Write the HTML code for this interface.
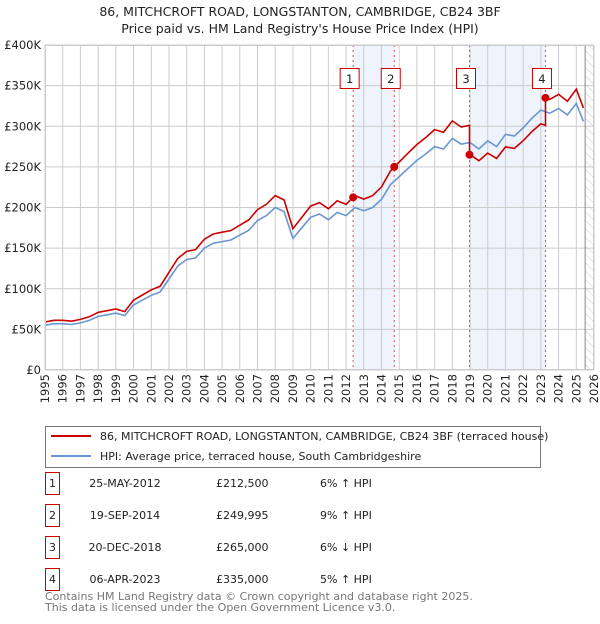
<!DOCTYPE html>
<html><head><meta charset="utf-8"><style>
body{margin:0;background:#fff;font-family:"DejaVu Sans","Liberation Sans",sans-serif;}
svg text{font-family:"DejaVu Sans","Liberation Sans",sans-serif;}
</style></head><body>
<svg id="c" width="600" height="620" xmlns="http://www.w3.org/2000/svg">
<defs><pattern id="hatch" width="6" height="6" patternUnits="userSpaceOnUse" patternTransform="rotate(-45)"><line x1="0" y1="0" x2="0" y2="6" stroke="#ccc" stroke-width="1"/></pattern></defs>
<text x="300" y="16" text-anchor="middle" font-size="12.5" fill="#222">86, MITCHCROFT ROAD, LONGSTANTON, CAMBRIDGE, CB24 3BF</text>
<text x="300" y="33" text-anchor="middle" font-size="12.5" fill="#222">Price paid vs. HM Land Registry's House Price Index (HPI)</text>
<g id="plot"></g>
<g>
<rect x="45.5" y="426.5" width="495" height="41" fill="#fff" stroke="#777"/>
<line x1="51" y1="436" x2="91" y2="436" stroke="#cc0000" stroke-width="2"/>
<text x="100" y="440" font-size="11" fill="#222">86, MITCHCROFT ROAD, LONGSTANTON, CAMBRIDGE, CB24 3BF (terraced house)</text>
<line x1="51" y1="456" x2="91" y2="456" stroke="#6a96d2" stroke-width="2"/>
<text x="100" y="460" font-size="11" fill="#222">HPI: Average price, terraced house, South Cambridgeshire</text>
</g>
<g id="table"></g>
<text x="45" y="600" font-size="11" fill="#777">Contains HM Land Registry data © Crown copyright and database right 2025.</text>
<text x="45" y="611" font-size="11" fill="#777">This data is licensed under the Open Government Licence v3.0.</text>
</svg>
<script>
const years=[1995,1995.5,1996,1996.5,1997,1997.5,1998,1998.5,1999,1999.5,2000,2000.5,2001,2001.5,2002,2002.5,2003,2003.5,2004,2004.5,2005,2005.5,2006,2006.5,2007,2007.5,2008,2008.5,2009,2009.5,2010,2010.5,2011,2011.5,2012,2012.5,2013,2013.5,2014,2014.5,2015,2015.5,2016,2016.5,2017,2017.5,2018,2018.5,2019,2019.5,2020,2020.5,2021,2021.5,2022,2022.5,2023,2023.5,2024,2024.5,2025,2025.4];
const hpi=[55,57,57,56,58,61,66,68,70,67,80,86,92,96,112,128,136,138,150,156,158,160,166,172,184,190,200,195,162,175,188,192,185,194,190,200,196,200,210,228,238,248,258,266,275,272,285,278,280,272,282,275,290,288,298,310,320,316,322,314,328,306];
const saleDates=[2012.4,2014.72,2018.97,2023.26];
const salePrices=[212.5,249.995,265,335];
const saleLabels=["25-MAY-2012","19-SEP-2014","20-DEC-2018","06-APR-2023"];
const priceLabels=["£212,500","£249,995","£265,000","£335,000"];
const hpiLabels=["6% ↑ HPI","9% ↑ HPI","6% ↓ HPI","5% ↑ HPI"];
const yTicks=[0,50,100,150,200,250,300,350,400];
const xTicks=[1995,1996,1997,1998,1999,2000,2001,2002,2003,2004,2005,2006,2007,2008,2009,2010,2011,2012,2013,2014,2015,2016,2017,2018,2019,2020,2021,2022,2023,2024,2025,2026];
const NS="http://www.w3.org/2000/svg";
const L=45,R=594,T=45,B=370;
const x=v=>L+(v-1995)/31*(R-L);
const y=v=>B-v/400*(B-T);
const g=document.getElementById('plot');
function mk(t,a,p){const e=document.createElementNS(NS,t);for(const k in a)e.setAttribute(k,a[k]);(p||g).appendChild(e);return e;}
function hpiAt(t){for(let i=1;i<years.length;i++){if(t<=years[i]){const f=(t-years[i-1])/(years[i]-years[i-1]);return hpi[i-1]+f*(hpi[i]-hpi[i-1]);}}return hpi[hpi.length-1];}
for(const [a,b] of [[0,1],[2,3]]){const r=mk('rect',{x:x(saleDates[a]),y:T,width:x(saleDates[b])-x(saleDates[a]),height:B-T,fill:'#eef3fc'});

}
const hz=mk('rect',{x:x(2025.5),y:T,width:R-x(2025.5),height:B-T,fill:'url(#hatch)'});


yTicks.forEach(v=>{mk('line',{x1:L,x2:R,y1:y(v),y2:y(v),stroke:'#cccccc'});
const t=mk('text',{x:L-4,y:y(v)+4,'text-anchor':'end','font-size':'11.5',fill:'#222'});t.textContent=v===0?'£0':'£'+v+'K';

});
xTicks.forEach(v=>{mk('line',{x1:x(v),x2:x(v),y1:T,y2:B,stroke:'#cccccc'});
const tx=x(v)+4,ty=B+4;
const t=mk('text',{x:tx,y:ty,'text-anchor':'end','font-size':'11.5',fill:'#222',transform:`rotate(-90 ${tx} ${ty})`});t.textContent=v;

});
mk('line',{x1:x(2025.5),x2:x(2025.5),y1:T,y2:B,stroke:'#888'});
saleDates.forEach((d,i)=>{const l=mk('line',{x1:x(d),x2:x(d),y1:T,y2:B,stroke:'#e05050','stroke-dasharray':'2,3'});


const bx=mk('rect',{x:x(d)-13,y:68.5,width:19,height:20,fill:'#fff',stroke:'#cc0000'});


const t=mk('text',{x:x(d)-3.5,y:83,'text-anchor':'middle','font-size':'11.5',fill:'#222'});t.textContent=i+1;

});
const hp=mk('path',{d:years.map((t,i)=>(i?'L':'M')+x(t).toFixed(1)+','+y(hpi[i]).toFixed(1)).join(''),fill:'none',stroke:'#6a96d2','stroke-width':'1.6'});


const ratios=saleDates.map((d,i)=>salePrices[i]/hpiAt(d));
function ratioAt(t){let r=ratios[0];saleDates.forEach((d,i)=>{if(t>=d)r=ratios[i];});return r;}
const pts=[];
const ts=years.concat(saleDates).sort((a,b)=>a-b);
ts.forEach(t=>{const si=saleDates.indexOf(t);
if(si>0){pts.push([t,hpiAt(t)*ratios[si-1]]);pts.push([t,salePrices[si]]);}
else pts.push([t,hpiAt(t)*ratioAt(t)]);});
const pp=mk('path',{d:pts.map((p,i)=>(i?'L':'M')+x(p[0]).toFixed(1)+','+y(p[1]).toFixed(1)).join(''),fill:'none',stroke:'#cc0000','stroke-width':'1.6'});


saleDates.forEach((d,i)=>{const c=mk('circle',{cx:x(d),cy:y(salePrices[i]),r:4,fill:'#cc0000'});

});
mk('rect',{x:L+.5,y:T+.5,width:R-L-1,height:B-T-1,fill:'none',stroke:'#cccccc'});
const tb=document.getElementById('table');
saleLabels.forEach((s,i)=>{const yy=483+i*32;
const b=mk('rect',{x:45.5,y:yy-10.5,width:14,height:22,fill:'#fff',stroke:'#cc0000'},tb);


[[52.5,String(i+1),'middle'],[125,s,'middle'],[216,priceLabels[i],'start'],[320,hpiLabels[i],'start']].forEach(c=>{
const t=mk('text',{x:c[0],y:yy+4,'text-anchor':c[2],'font-size':'11',fill:'#222'},tb);t.textContent=c[1];

});});
</script>
</body></html>
